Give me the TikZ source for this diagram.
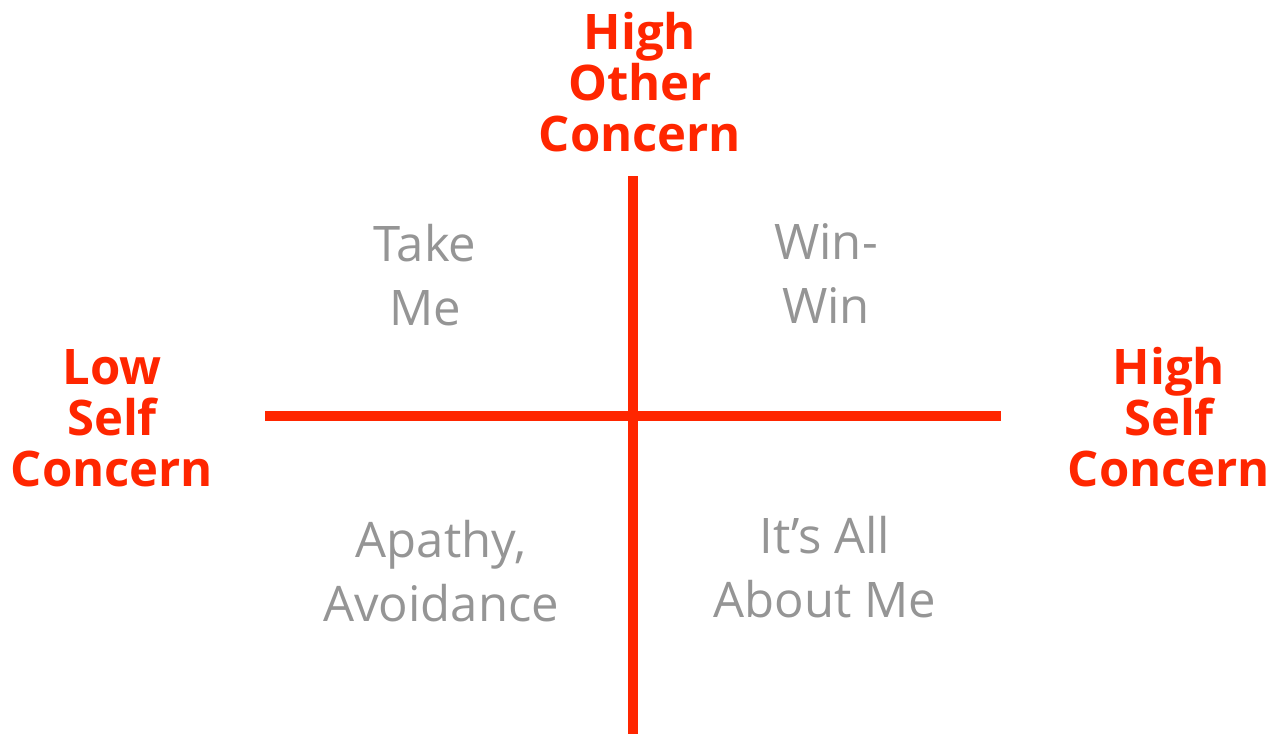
\documentclass[tikz,border=0pt]{standalone}
\usepackage{fontspec}
\setmainfont{Open Sans}
\definecolor{axisred}{HTML}{FF2600}
\definecolor{labelgray}{HTML}{959595}
\begin{document}
\begin{tikzpicture}[x=0.02cm,y=-0.02cm,
  axis/.style={draw=axisred,line width=0.2cm},
  pole/.style={text=axisred,font=\fontsize{27.9}{29}\selectfont\bfseries,
    align=center,anchor=base,inner sep=0pt},
  quad/.style={text=labelgray,font=\fontsize{27.9}{36.4}\selectfont,
    align=center,anchor=base,inner sep=0pt}]
\useasboundingbox (0,0) rectangle (1270,734);

% axes
\coordinate (vtop) at (633,176);
\coordinate (vbot) at (633,734);
\coordinate (hleft) at (265,415.5);
\coordinate (hright) at (1001,415.5);
\draw[axis] (vtop) -- (vbot);
\draw[axis] (hleft) -- (hright);

% axis poles (placed by the baseline of their last line)
\node[pole] (other) at (640,151) {High\\Other\\Concern};
\node[pole] (lowself) at (112,486) {Low\\Self\\Concern};
\node[pole] (highself) at (1169,486) {High\\Self\\Concern};

% quadrant labels
\node[quad] (takeme) at (425,325) {Take\\Me};
\node[quad] (winwin) at (826,323) {Win-\\Win};
\node[quad] (apathy) at (441,621) {Apathy,\\Avoidance};
\node[quad] (aboutme) at (825,617) {It’s All\\About Me};
\end{tikzpicture}
\end{document}
